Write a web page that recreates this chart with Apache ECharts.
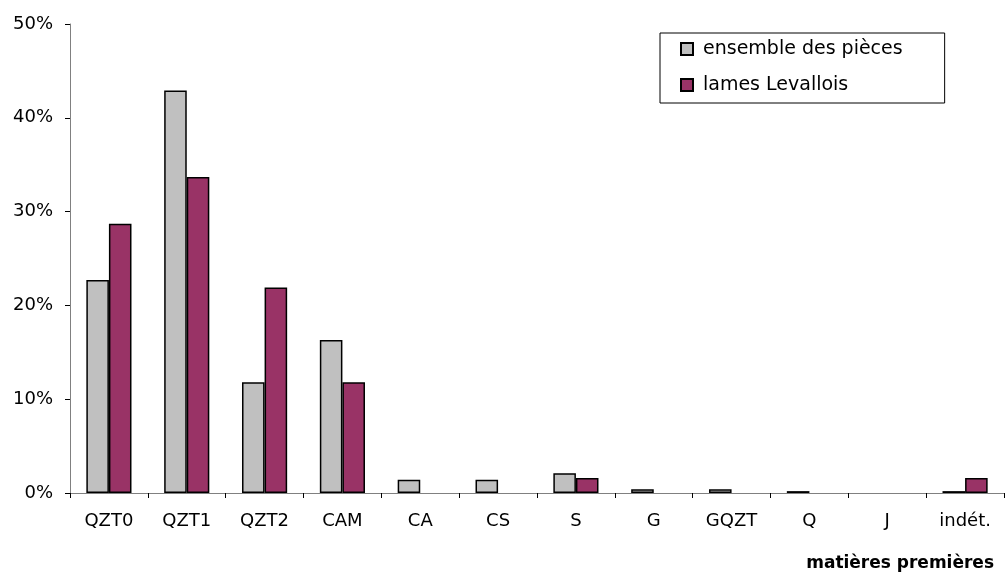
<!DOCTYPE html>
<html>
<head>
<meta charset="utf-8">
<script src="https://cdn.jsdelivr.net/npm/echarts@6/dist/echarts.min.js"></script>
<style>
html,body{margin:0;padding:0;background:#fff;}
#chart{width:1005px;height:576px;}
</style>
</head>
<body>
<div id="chart"></div>
<script>
const categories = ['QZT0','QZT1','QZT2','CAM','CA','CS','S','G','GQZT','Q','J','indét.'];
const ensembleDesPieces = [22.7, 42.9, 11.8, 16.3, 1.4, 1.4, 2.1, 0.4, 0.4, 0.2, 0, 0.2];
const lamesLevallois    = [28.7, 33.7, 21.9, 11.8, 0, 0, 1.6, 0, 0, 0, 0, 1.6];
const yTicks = [0, 10, 20, 30, 40, 50];

const font = 'DejaVu Sans, Liberation Sans, sans-serif';
const noZero = arr => arr.map(v => (v === 0 ? '-' : v));
const chart = echarts.init(document.getElementById('chart'));
chart.setOption({
  animation: false,
  backgroundColor: '#fff',
  textStyle: { fontFamily: font },
  grid: { left: 70, right: 1, top: 24, bottom: 83, containLabel: false },
  legend: {
    orient: 'vertical',
    left: 660, top: 33,
    padding: [5, 42, 7, 20],
    itemGap: 14,
    itemWidth: 12, itemHeight: 12,
    icon: 'rect',
    borderColor: '#000', borderWidth: 1,
    textStyle: { fontSize: 19, lineHeight: 22, color: '#000', fontFamily: font, padding: [0, 0, 0, 5] },
    data: ['ensemble des pièces', 'lames Levallois']
  },
  xAxis: {
    type: 'category',
    data: categories,
    name: 'matières premières',
    nameLocation: 'end',
    nameGap: -10,
    nameTextStyle: { align: 'right', verticalAlign: 'top', padding: [62, 0, 0, 0], fontSize: 17, fontWeight: 'bold', color: '#000', fontFamily: font },
    axisLine: { lineStyle: { color: '#808080', width: 1 } },
    axisTick: { show: true, length: 5, lineStyle: { color: '#000' } },
    axisLabel: { fontSize: 18, color: '#000', margin: 19, fontFamily: font, interval: 0 }
  },
  yAxis: {
    type: 'value',
    min: yTicks[0], max: yTicks[yTicks.length - 1], interval: 10,
    splitLine: { show: false },
    axisLine: { show: true, lineStyle: { color: '#808080', width: 1 } },
    axisTick: { show: true, length: 5, lineStyle: { color: '#000' } },
    axisLabel: { fontSize: 18, color: '#000', margin: 17, formatter: '{value}%', fontFamily: font }
  },
  series: [
    {
      name: 'ensemble des pièces', type: 'bar', data: noZero(ensembleDesPieces),
      barWidth: '29%', barGap: '0%',
      itemStyle: { color: '#C0C0C0', borderColor: '#000', borderWidth: 1.5 }
    },
    {
      name: 'lames Levallois', type: 'bar', data: noZero(lamesLevallois),
      barWidth: '29%', barGap: '0%',
      itemStyle: { color: '#993366', borderColor: '#000', borderWidth: 1.5 }
    }
  ]
});
</script>
</body>
</html>
